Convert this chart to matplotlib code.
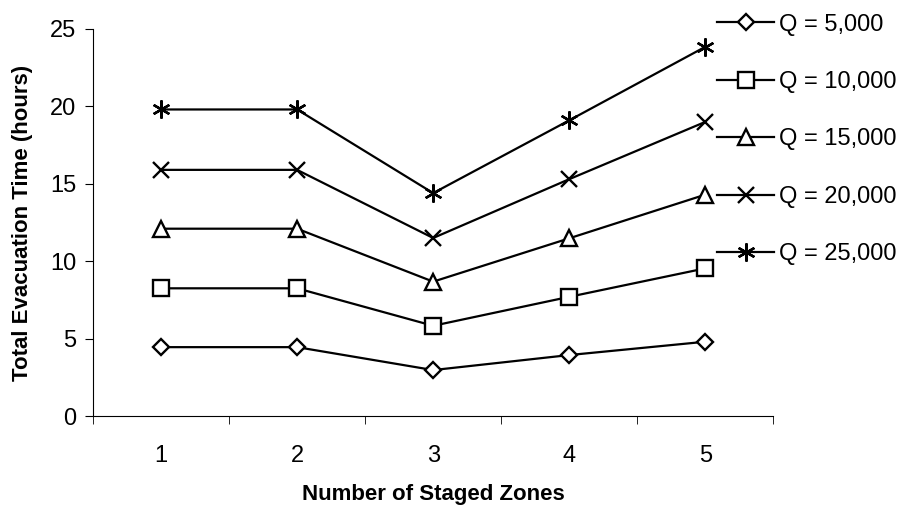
import matplotlib.pyplot as plt
from matplotlib.ticker import FixedLocator

plt.rcParams['font.family'] = ['Liberation Sans', 'DejaVu Sans']

zones = [1, 2, 3, 4, 5]
labels = ["Q = 5,000", "Q = 10,000", "Q = 15,000", "Q = 20,000", "Q = 25,000"]
q5000 = [4.45, 4.45, 2.97, 3.94, 4.8]
q10000 = [8.25, 8.25, 5.83, 7.7, 9.54]
q15000 = [12.1, 12.1, 8.68, 11.48, 14.3]
q20000 = [15.9, 15.9, 11.5, 15.3, 19.0]
q25000 = [19.8, 19.8, 14.4, 19.1, 23.85]

series = [q5000, q10000, q15000, q20000, q25000]
markers = ["D", "s", "^", "x", (6, 2, 0)]
sizes = [8, 12, 11, 12, 13]

fig = plt.figure(figsize=(9.11, 5.08), dpi=100)
ax = fig.add_axes([0.102, 0.181, 0.747, 0.762])

for vals, m, ms, lab in zip(series, markers, sizes, labels):
    ax.plot(zones, vals, color="black", lw=1.6, marker=m, markersize=ms,
            markerfacecolor="white", markeredgecolor="black", markeredgewidth=1.7,
            label=lab)

ax.set_xlim(0.5, 5.5)
ax.set_ylim(0, 25)
ax.set_yticks([0, 5, 10, 15, 20, 25])
ax.set_xticks(zones)
ax.xaxis.set_minor_locator(FixedLocator([0.5, 1.5, 2.5, 3.5, 4.5, 5.5]))
ax.tick_params(axis="x", which="major", length=0, pad=21, labelsize=17)
ax.tick_params(axis="x", which="minor", length=6, direction="out")
ax.tick_params(axis="y", length=6, direction="out", labelsize=17, pad=6)
ax.spines["top"].set_visible(False)
ax.spines["right"].set_visible(False)

ax.set_xlabel("Number of Staged Zones", fontsize=16, fontweight="bold", labelpad=12)
ax.set_ylabel("Total Evacuation Time (hours)", fontsize=16, fontweight="bold", labelpad=12)

fig.legend(loc="upper left", bbox_to_anchor=(0.764, 1.015), frameon=False,
           fontsize=17, labelspacing=1.5, handlelength=2.4, handletextpad=0.2,
           numpoints=1)

fig.savefig("out.png", dpi=100)
